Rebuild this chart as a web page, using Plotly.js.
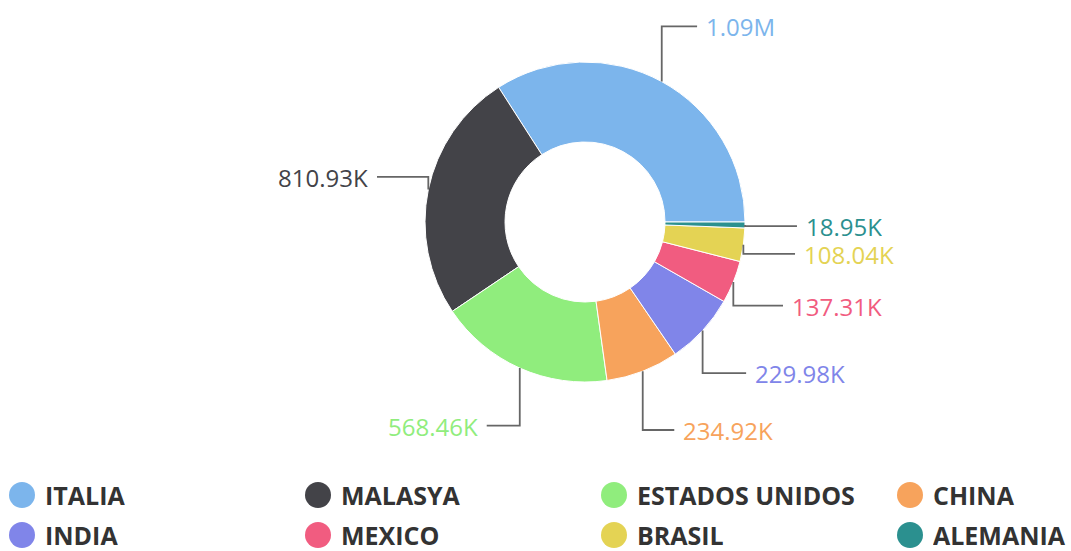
<!DOCTYPE html>
<html>
<head>
<meta charset="utf-8">
<script src="https://cdn.plot.ly/plotly-3.0.1.min.js"></script>
<style>
	html, body { margin: 0; padding: 0; background: #fff; }
	#chart { width: 1071px; height: 551px; }
</style>
</head>
<body>
<div id="chart"></div>
<script>
"use strict";

//DATA
const countries = ["ITALIA", "MALASYA", "ESTADOS UNIDOS", "CHINA", "INDIA", "MEXICO", "BRASIL", "ALEMANIA"];
const amounts = [1090000, 810930, 568460, 234920, 229980, 137310, 108040, 18950];
const colors = ["#7cb5ec", "#434348", "#90ed7d", "#f7a35c", "#8085e9", "#f15c80", "#e4d354", "#2b908f"];

//GEOMETRY (pixels)
const W = 1071, H = 551;
const CX = 585, CY = 222, R = 160;
const LABEL_R = 223;

//HELPER FUNCTIONS
function px(x){ return x / W; }
function py(y){ return 1 - y / H; }

function fmt(v){
	if(v >= 1e6) return (v / 1e6).toFixed(2) + "M";
	return (v / 1e3).toFixed(2) + "K";
}

const total = amounts.reduce((a, b) => a + b, 0);

//LABELS WITH LEADER LINES
function leaderLabels(){
	const shapes = [], annotations = [];
	let start = 0;
	const items = [];

	// slices run counterclockwise from 3 o'clock
	for(let i = 0; i < amounts.length; i++){
		const span = amounts[i] / total * 360;
		const mid = (start + span / 2) * Math.PI / 180;
		start += span;
		const c = Math.cos(mid), s = Math.sin(mid);
		items.push({
			i: i, c: c,
			x0: CX + R * c,
			y0: CY - R * s,
			ly: CY - LABEL_R * s,
			right: c >= 0
		});
	}

	// push apart labels on the same side
	[true, false].forEach(side => {
		const grp = items.filter(d => d.right == side).sort((a, b) => a.ly - b.ly);
		for(let k = 1; k < grp.length; k++){
			if(grp[k].ly - grp[k-1].ly < 25) grp[k].ly = grp[k-1].ly + 25;
		}
	});

	items.forEach(d => {
		const len = 20 + 32 * Math.abs(d.c);
		const x2 = d.x0 + (d.right ? len : -len);
		shapes.push({
			type: 'path', xref: 'paper', yref: 'paper',
			path: `M ${px(d.x0)},${py(d.y0)} L ${px(d.x0)},${py(d.ly)} L ${px(x2)},${py(d.ly)}`,
			line: {color: '#666666', width: 1.8}
		});
		annotations.push({
			xref: 'paper', yref: 'paper',
			x: px(x2 + (d.right ? 8 : -8)), y: py(d.ly),
			xanchor: d.right ? 'left' : 'right', yanchor: 'middle',
			height: 26, valign: 'middle', borderpad: 0,
			text: fmt(amounts[d.i]), showarrow: false,
			font: {family: 'Open Sans', size: 24, color: colors[d.i]}
		});
	});

	return [shapes, annotations];
}

//LEGEND (circles, 4 columns)
function legendItems(){
	const shapes = [], annotations = [];
	const rad = 13;
	countries.forEach((name, i) => {
		const col = i % 4, row = Math.floor(i / 4);
		const cx = 22 + 296 * col, cy = 495 + 40 * row;
		shapes.push({
			type: 'circle', xref: 'paper', yref: 'paper',
			x0: px(cx - rad), x1: px(cx + rad),
			y0: py(cy + rad), y1: py(cy - rad),
			fillcolor: colors[i], line: {width: 0}
		});
		annotations.push({
			xref: 'paper', yref: 'paper',
			x: px(cx + 22), y: py(cy),
			xanchor: 'left', yanchor: 'middle',
			height: 28, valign: 'middle', borderpad: 0,
			text: name, showarrow: false,
			font: {family: 'Open Sans', size: 25, weight: 700, color: '#333333'}
		});
	});
	return [shapes, annotations];
}

//MAIN
const [lineShapes, lineNotes] = leaderLabels();
const [legShapes, legNotes] = legendItems();

// plotly puts the first counterclockwise slice on the clockwise side of "rotation"
const trace = {
	type: 'pie',
	labels: countries,
	values: amounts,
	hole: 0.5,
	sort: false,
	direction: 'counterclockwise',
	rotation: 90 - amounts[0] / total * 360,
	textinfo: 'none',
	marker: {colors: colors, line: {color: '#ffffff', width: 1}},
	domain: {x: [px(CX - R), px(CX + R)], y: [py(CY + R), py(CY - R)]},
	showlegend: false
};

const layout = {
	width: W, height: H,
	margin: {l: 0, r: 0, t: 0, b: 0},
	paper_bgcolor: '#ffffff',
	showlegend: false,
	shapes: lineShapes.concat(legShapes),
	annotations: lineNotes.concat(legNotes)
};

Plotly.newPlot('chart', [trace], layout, {displayModeBar: false, staticPlot: true});
</script>
</body>
</html>
